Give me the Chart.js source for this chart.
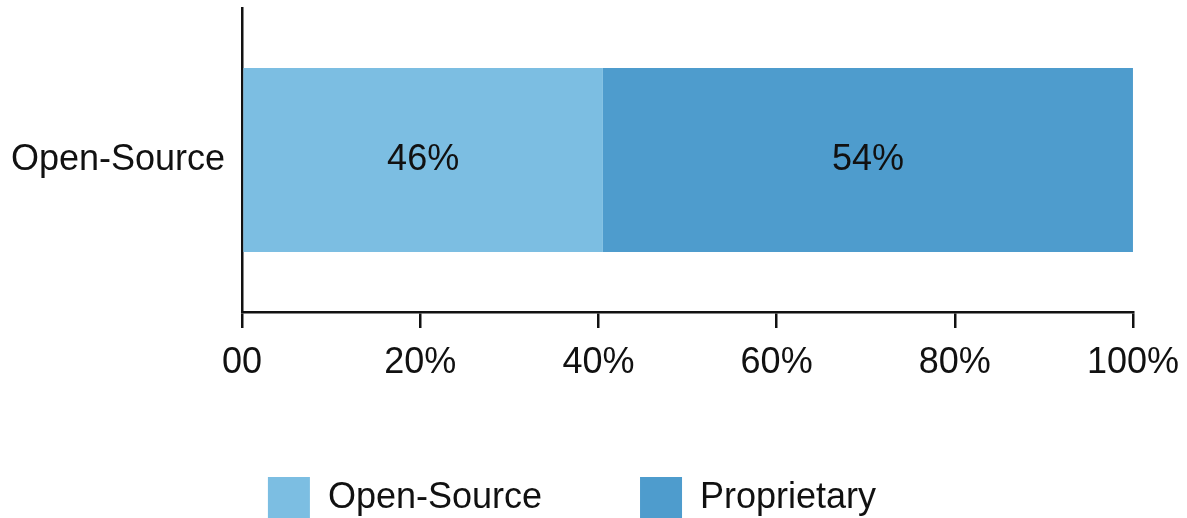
<!DOCTYPE html>
<html lang="en">
<head>
    <meta charset="UTF-8">
    <title>Open-Source vs Proprietary</title>
    <script src="https://cdn.jsdelivr.net/npm/chart.js"></script>
    <style>
        body {
            margin: 0;
            padding: 0;
            background: #fff;
        }

        .chart-box {
            width: 1187px;
            height: 518px;
        }
    </style>
</head>
<body>
    <div class="chart-box">
        <canvas id="shareChart"></canvas>
    </div>

    <script>
        // data
        const categories = ['Open-Source'];
        const seriesNames = ['Open-Source', 'Proprietary'];
        const openSourceValues = [40.5];
        const proprietaryValues = [59.5];
        const segmentLabels = ['46%', '54%'];
        const tickLabels = ['00', '20%', '40%', '60%', '80%', '100%'];

        const lightBlue = '#7cbee2';
        const darkBlue = '#4e9ccd';
        const ink = '#111';
        const fontFamily = "'Liberation Sans', Arial, sans-serif";

        // writes the text in the middle of each segment
        const segmentText = {
            id: 'segmentText',
            afterDatasetsDraw(chart) {
                const ctx = chart.ctx;
                ctx.save();
                ctx.font = '36px ' + fontFamily;
                ctx.fillStyle = ink;
                ctx.textAlign = 'center';
                ctx.textBaseline = 'middle';
                chart.data.datasets.forEach((ds, i) => {
                    chart.getDatasetMeta(i).data.forEach(bar => {
                        ctx.fillText(segmentLabels[i], (bar.x + bar.base) / 2, bar.y);
                    });
                });
                ctx.restore();
            }
        };

        const ctx = document.getElementById('shareChart').getContext('2d');
        new Chart(ctx, {
            type: 'bar',
            data: {
                labels: categories,
                datasets: [{
                    label: seriesNames[0],
                    data: openSourceValues,
                    backgroundColor: lightBlue,
                    barPercentage: 0.605,
                    categoryPercentage: 1
                }, {
                    label: seriesNames[1],
                    data: proprietaryValues,
                    backgroundColor: darkBlue,
                    barPercentage: 0.605,
                    categoryPercentage: 1
                }]
            },
            options: {
                indexAxis: 'y',
                responsive: true,
                maintainAspectRatio: false,
                animation: false,
                layout: {
                    padding: { top: 8, left: 11, right: 54, bottom: 0 }
                },
                plugins: {
                    tooltip: { enabled: false },
                    legend: {
                        position: 'bottom',
                        maxHeight: 139,
                        labels: {
                            boxWidth: 42,
                            boxHeight: 42,
                            padding: 98,
                            color: ink,
                            font: { family: fontFamily, size: 36 }
                        }
                    }
                },
                scales: {
                    x: {
                        stacked: true,
                        min: 0,
                        max: 100,
                        // keep the axis low, labels sit lower than their box
                        afterFit: scale => { scale.height = 67; },
                        ticks: {
                            stepSize: 20,
                            padding: 8,
                            color: ink,
                            font: { family: fontFamily, size: 36, lineHeight: 1.53 },
                            callback: (value, index) => tickLabels[index]
                        },
                        grid: {
                            drawOnChartArea: false,
                            tickLength: 16,
                            tickColor: ink,
                            lineWidth: 2.5
                        },
                        border: { color: ink, width: 2.5 }
                    },
                    y: {
                        stacked: true,
                        ticks: {
                            padding: 0,
                            color: ink,
                            font: { family: fontFamily, size: 36, lineHeight: 0.4 }
                        },
                        // invisible tick marks keep the gap between label and axis
                        grid: {
                            drawOnChartArea: false,
                            drawTicks: true,
                            tickLength: 17,
                            tickColor: 'rgba(0,0,0,0)'
                        },
                        border: { color: ink, width: 2.5 }
                    }
                }
            },
            plugins: [segmentText]
        });
    </script>
</body>
</html>
